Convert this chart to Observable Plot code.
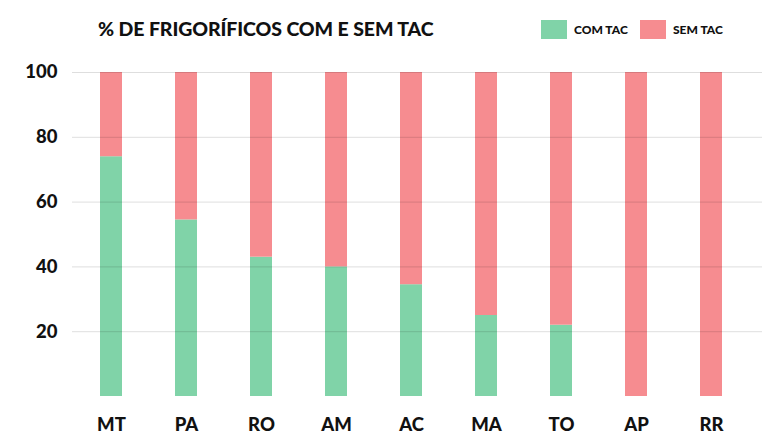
<!DOCTYPE html>
<html>
<head>
<meta charset="utf-8">
<script src="https://cdn.jsdelivr.net/npm/d3@7"></script>
<script src="https://cdn.jsdelivr.net/npm/@observablehq/plot@0.6"></script>
<style>
  html, body { margin: 0; padding: 0; background: #fff; }
  #wrap { position: relative; width: 780px; height: 446px; font-family: Lato, "Noto Sans", sans-serif; }
  #title { position: absolute; left: 98px; top: 17px; font-size: 19.5px; font-weight: 900; color: #111; letter-spacing: -0.1px; white-space: nowrap; }
  .leg { position: absolute; top: 20px; height: 19px; display: flex; align-items: center; font-size: 12px; font-weight: 900; color: #111; white-space: nowrap; }
  .sw { width: 26px; height: 19px; margin-right: 7px; }
</style>
</head>
<body>
<div id="wrap">
  <div id="chart"></div>
  <div id="title">% DE FRIGORÍFICOS COM E SEM TAC</div>
  <div class="leg" style="left:541px"><div class="sw" id="sw0"></div><span id="l0"></span></div>
  <div class="leg" style="left:640px"><div class="sw" id="sw1"></div><span id="l1"></span></div>
</div>
<script>
const states = ["MT", "PA", "RO", "AM", "AC", "MA", "TO", "AP", "RR"];
const comTac = [74, 54.5, 43, 40, 34.5, 25, 22, 0, 0];
const semTac = [26, 45.5, 57, 60, 65.5, 75, 78, 100, 100];
const seriesNames = ["COM TAC", "SEM TAC"];
const seriesColors = ["#80d3a8", "#f68c90"];
const yTicks = [20, 40, 60, 80, 100];

const rows = [];
states.forEach((s, i) => {
  rows.push({state: s, serie: seriesNames[0], value: comTac[i]});
  rows.push({state: s, serie: seriesNames[1], value: semTac[i]});
});

const chart = Plot.plot({
  width: 780,
  height: 446,
  marginTop: 72,
  marginBottom: 50,
  marginLeft: 72,
  marginRight: 31,
  style: {fontFamily: "Lato, 'Noto Sans', sans-serif", fontWeight: 900, color: "#111", background: "#fff"},
  x: {domain: states, paddingInner: 0.71, paddingOuter: 0.345, label: null, tickSize: 0, tickPadding: 21},
  y: {domain: [0, 100], ticks: yTicks, label: null, tickSize: 0, tickPadding: 15},
  color: {domain: seriesNames, range: seriesColors},
  marks: [
    Plot.barY(rows, Plot.stackY({x: "state", y: "value", fill: "serie", order: seriesNames})),
    Plot.ruleY(yTicks, {stroke: "#000", strokeOpacity: 0.13, insetRight: -13}),
    Plot.axisY({ticks: yTicks, tickSize: 0, tickPadding: 15, fontSize: 18.5, fontWeight: 900, label: null}),
    Plot.axisX({tickSize: 0, tickPadding: 21, fontSize: 18.5, fontWeight: 900, label: null})
  ]
});
document.getElementById("chart").appendChild(chart);
document.getElementById("sw0").style.background = seriesColors[0];
document.getElementById("sw1").style.background = seriesColors[1];
document.getElementById("l0").textContent = seriesNames[0];
document.getElementById("l1").textContent = seriesNames[1];
</script>
</body>
</html>
